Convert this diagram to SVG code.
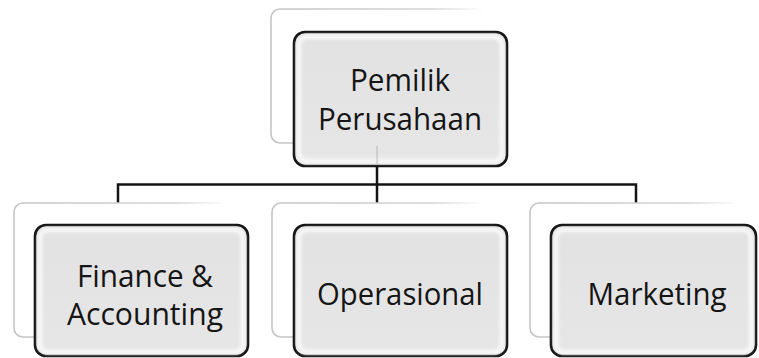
<svg xmlns="http://www.w3.org/2000/svg" width="759" height="358" viewBox="0 0 759 358">
  <defs>
    <linearGradient id="fade" x1="0" y1="0" x2="1" y2="0">
      <stop offset="0" stop-color="#c4c4c4"/>
      <stop offset="0.75" stop-color="#d4d4d4"/>
      <stop offset="1" stop-color="#ffffff"/>
    </linearGradient>
    <linearGradient id="boxfill" x1="0" y1="0" x2="0" y2="1">
      <stop offset="0" stop-color="#e2e2e2"/>
      <stop offset="1" stop-color="#e6e6e6"/>
    </linearGradient>
    <filter id="soft" x="-10%" y="-10%" width="120%" height="120%">
      <feGaussianBlur stdDeviation="1.6"/>
    </filter>
  </defs>
  <style>
    .back { fill: #ffffff; stroke: url(#fade); stroke-width: 1.6; }
    .front { fill: url(#boxfill); stroke: #141414; stroke-width: 2.6; }
    .bevel { fill: none; stroke: #fafafa; stroke-width: 5; opacity: 0.85; filter: url(#soft); }
    .lbl { font-family: "Open Sans", Lato, "Liberation Sans", sans-serif; font-size: 31px; fill: #151515; text-anchor: middle; font-variant-ligatures: none; }
    .conn { fill: none; stroke: #141414; stroke-width: 2.5; }
  </style>
  <rect width="759" height="358" fill="#ffffff"/>

  <g id="connectors">
    <path class="conn" d="M377,165 V184.5"/>
    <path class="conn" d="M118,203 V184.5 H636 V203"/>
    <path class="conn" d="M377,184.5 V203"/>
  </g>

  <g id="node-pemilik">
    <rect class="back" x="271" y="9" width="214" height="134" rx="9"/>
    <rect class="front" x="294" y="32" width="213" height="134" rx="11"/>
    <rect class="bevel" x="299" y="37" width="203" height="124" rx="8"/>
    <line x1="377" y1="146" x2="377" y2="164" stroke="#141414" stroke-width="1.5" opacity="0.15"/>
    <text class="lbl" x="400" y="91" textLength="100" lengthAdjust="spacingAndGlyphs">Pemilik</text>
    <text class="lbl" x="400" y="130" textLength="164" lengthAdjust="spacingAndGlyphs">Perusahaan</text>
  </g>

  <g id="node-finance">
    <rect class="back" x="14" y="203" width="214" height="134" rx="9"/>
    <rect class="front" x="35" y="225" width="213" height="131" rx="11"/>
    <rect class="bevel" x="40" y="230" width="203" height="122" rx="8"/>
    <text class="lbl" x="145" y="287" textLength="136" lengthAdjust="spacingAndGlyphs">Finance &amp;</text>
    <text class="lbl" x="145" y="325" textLength="156" lengthAdjust="spacingAndGlyphs">Accounting</text>
  </g>

  <g id="node-operasional">
    <rect class="back" x="272" y="203" width="214" height="134" rx="9"/>
    <rect class="front" x="294" y="225" width="213" height="131" rx="11"/>
    <rect class="bevel" x="299" y="230" width="203" height="122" rx="8"/>
    <text class="lbl" x="400" y="305" textLength="166" lengthAdjust="spacingAndGlyphs">Operasional</text>
  </g>

  <g id="node-marketing">
    <rect class="back" x="530" y="203" width="210" height="134" rx="9"/>
    <rect class="front" x="551" y="225" width="205" height="131" rx="11"/>
    <rect class="bevel" x="556" y="230" width="195" height="122" rx="8"/>
    <text class="lbl" x="657" y="305" textLength="139" lengthAdjust="spacingAndGlyphs">Marketing</text>
  </g>
</svg>
